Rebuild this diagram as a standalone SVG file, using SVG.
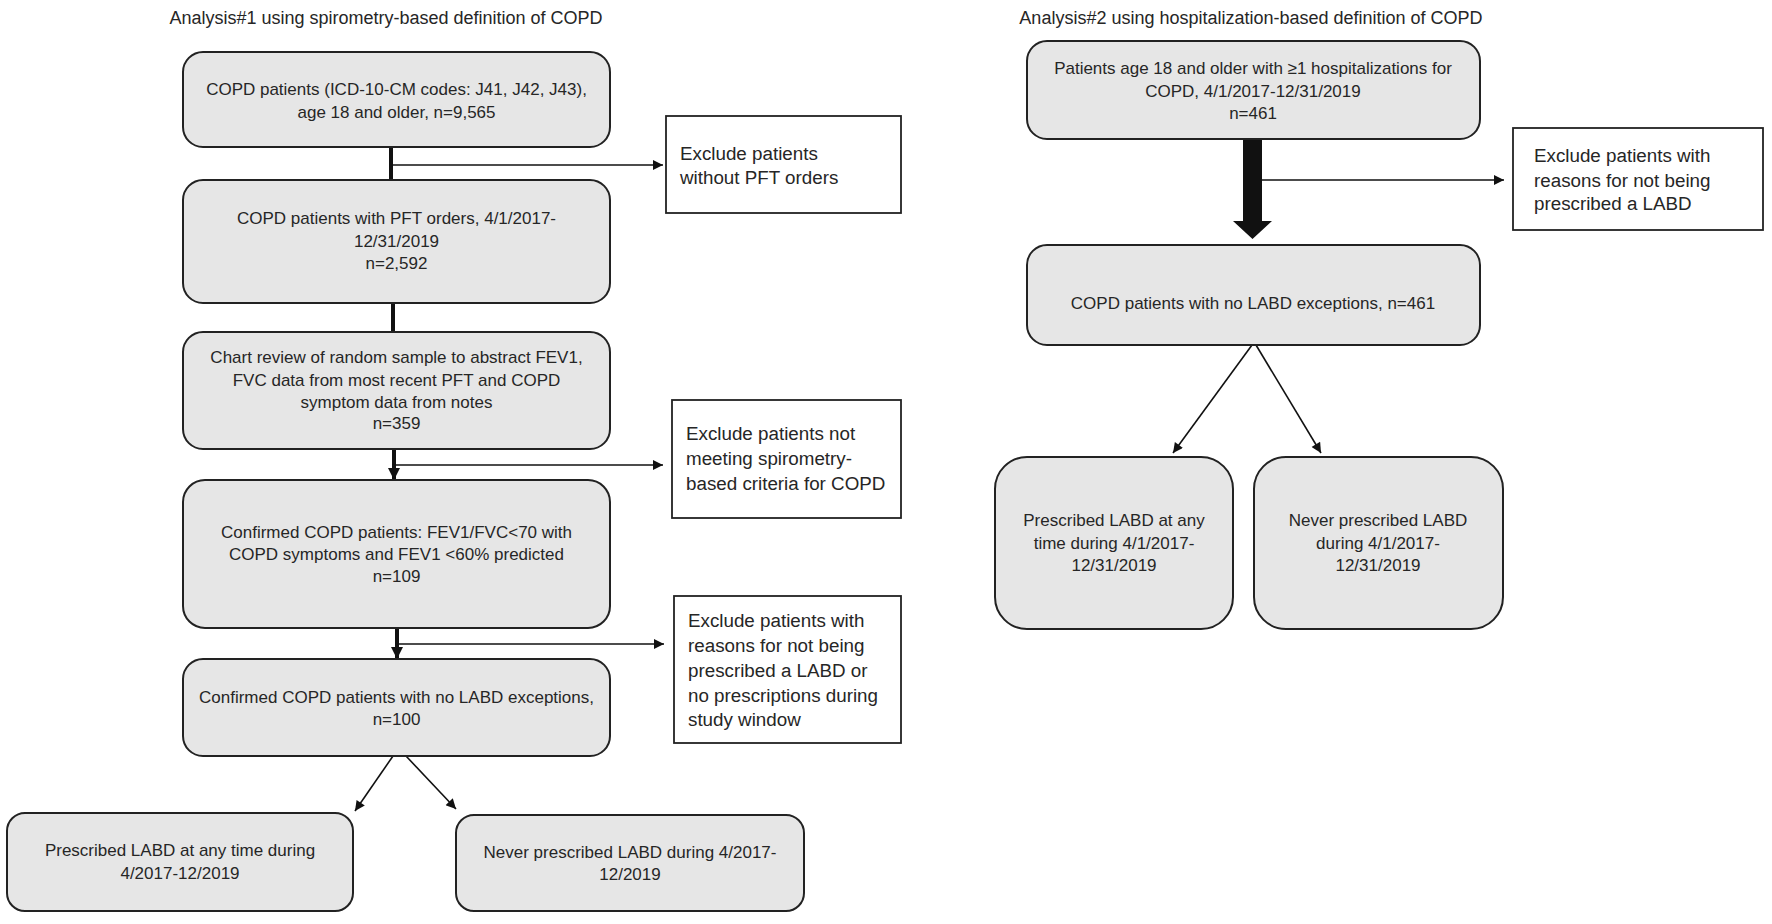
<svg xmlns="http://www.w3.org/2000/svg" width="1772" height="924" viewBox="0 0 1772 924">
<defs>
<style>
.bx{fill:#e6e6e6;stroke:#222;stroke-width:2}
.ex{fill:#fff;stroke:#222;stroke-width:1.8}
.t{font-family:"Liberation Sans",Arial,sans-serif;font-size:17px;fill:#262626;text-anchor:middle}
.te{font-family:"Liberation Sans",Arial,sans-serif;font-size:18.8px;fill:#262626}
.ti{font-family:"Liberation Sans",Arial,sans-serif;font-size:18px;fill:#262626;text-anchor:middle}
.thick{stroke:#111;stroke-width:4;fill:none}
.thin{stroke:#111;stroke-width:1.6;fill:none}
</style>
<marker id="ah" viewBox="0 0 10 10" refX="10" refY="5" markerWidth="12" markerHeight="10" markerUnits="userSpaceOnUse" orient="auto">
<path d="M0,0 L10,5 L0,10 z" fill="#111"/>
</marker>
<marker id="ahs" viewBox="0 0 10 10" refX="10" refY="5" markerWidth="4" markerHeight="3" orient="auto">
<path d="M0,0 L10,5 L0,10 z" fill="#111"/>
</marker>
</defs>
<rect width="1772" height="924" fill="#fff"/>

<text class="ti" x="386" y="24">Analysis#1 using spirometry-based definition of COPD</text>
<text class="ti" x="1251" y="24">Analysis#2 using hospitalization-based definition of COPD</text>

<g id="connectors">
<line class="thick" x1="391" y1="147" x2="391" y2="180"/>
<line class="thin" x1="391" y1="165" x2="663" y2="165" marker-end="url(#ah)"/>
<line class="thick" x1="393" y1="303" x2="393" y2="332"/>
<line class="thick" x1="394" y1="449" x2="394" y2="480" marker-end="url(#ahs)"/>
<line class="thin" x1="394" y1="465" x2="663" y2="465" marker-end="url(#ah)"/>
<line class="thick" x1="397" y1="628" x2="397" y2="659" marker-end="url(#ahs)"/>
<line class="thin" x1="397" y1="644" x2="664" y2="644" marker-end="url(#ah)"/>
<line class="thin" x1="393" y1="756" x2="355" y2="811" marker-end="url(#ah)"/>
<line class="thin" x1="406" y1="756" x2="456" y2="809" marker-end="url(#ah)"/>
<path d="M1243,139 L1262,139 L1262,221 L1272,221 L1252.5,239 L1233,221 L1243,221 z" fill="#111"/>
<line class="thin" x1="1262" y1="180" x2="1504" y2="180" marker-end="url(#ah)"/>
<line class="thin" x1="1252" y1="345" x2="1173" y2="453" marker-end="url(#ah)"/>
<line class="thin" x1="1256" y1="345" x2="1321" y2="453" marker-end="url(#ah)"/>
</g>

<g id="n1">
<rect class="bx" x="183" y="52" width="427" height="95" rx="20"/>
<text class="t" x="396.5" y="95">COPD patients (ICD-10-CM codes: J41, J42, J43),</text>
<text class="t" x="396.5" y="118">age 18 and older, n=9,565</text>
</g>
<g id="x1">
<rect class="ex" x="666" y="116" width="235" height="97"/>
<text class="te" x="680" y="160">Exclude patients</text>
<text class="te" x="680" y="184">without PFT orders</text>
</g>
<g id="n2">
<rect class="bx" x="183" y="180" width="427" height="123" rx="20"/>
<text class="t" x="396.5" y="224">COPD patients with PFT orders, 4/1/2017-</text>
<text class="t" x="396.5" y="247">12/31/2019</text>
<text class="t" x="396.5" y="269">n=2,592</text>
</g>
<g id="n3">
<rect class="bx" x="183" y="332" width="427" height="117" rx="20"/>
<text class="t" x="396.5" y="363">Chart review of random sample to abstract FEV1,</text>
<text class="t" x="396.5" y="386">FVC data from most recent PFT and COPD</text>
<text class="t" x="396.5" y="408">symptom data from notes</text>
<text class="t" x="396.5" y="429">n=359</text>
</g>
<g id="x2">
<rect class="ex" x="672" y="400" width="229" height="118"/>
<text class="te" x="686" y="440">Exclude patients not</text>
<text class="te" x="686" y="465">meeting  spirometry-</text>
<text class="te" x="686" y="490">based criteria for COPD</text>
</g>
<g id="n4">
<rect class="bx" x="183" y="480" width="427" height="148" rx="22"/>
<text class="t" x="396.5" y="538">Confirmed COPD patients: FEV1/FVC&lt;70 with</text>
<text class="t" x="396.5" y="560">COPD symptoms and FEV1 &lt;60% predicted</text>
<text class="t" x="396.5" y="582">n=109</text>
</g>
<g id="x3">
<rect class="ex" x="674" y="596" width="227" height="147"/>
<text class="te" x="688" y="627">Exclude patients with</text>
<text class="te" x="688" y="652">reasons for not being</text>
<text class="te" x="688" y="677">prescribed a LABD  or</text>
<text class="te" x="688" y="702">no prescriptions during</text>
<text class="te" x="688" y="726">study window</text>
</g>
<g id="n5">
<rect class="bx" x="183" y="659" width="427" height="97" rx="20"/>
<text class="t" x="396.5" y="703">Confirmed COPD patients with no LABD exceptions,</text>
<text class="t" x="396.5" y="725">n=100</text>
</g>
<g id="n6">
<rect class="bx" x="7" y="813" width="346" height="98" rx="18"/>
<text class="t" x="180" y="856">Prescribed LABD at any time during</text>
<text class="t" x="180" y="879">4/2017-12/2019</text>
</g>
<g id="n7">
<rect class="bx" x="456" y="815" width="348" height="96" rx="18"/>
<text class="t" x="630" y="858">Never prescribed LABD during 4/2017-</text>
<text class="t" x="630" y="880">12/2019</text>
</g>

<g id="r1">
<rect class="bx" x="1027" y="41" width="453" height="98" rx="20"/>
<text class="t" x="1253" y="74">Patients age 18 and older with ≥1 hospitalizations for</text>
<text class="t" x="1253" y="97">COPD, 4/1/2017-12/31/2019</text>
<text class="t" x="1253" y="119">n=461</text>
</g>
<g id="rx">
<rect class="ex" x="1513" y="128" width="250" height="102"/>
<text class="te" x="1534" y="162">Exclude patients with</text>
<text class="te" x="1534" y="187">reasons for not being</text>
<text class="te" x="1534" y="210">prescribed a LABD</text>
</g>
<g id="r2">
<rect class="bx" x="1027" y="245" width="453" height="100" rx="20"/>
<text class="t" x="1253" y="309">COPD patients with no LABD exceptions, n=461</text>
</g>
<g id="r3">
<rect class="bx" x="995" y="457" width="238" height="172" rx="32"/>
<text class="t" x="1114" y="526">Prescribed LABD at any</text>
<text class="t" x="1114" y="549">time during 4/1/2017-</text>
<text class="t" x="1114" y="571">12/31/2019</text>
</g>
<g id="r4">
<rect class="bx" x="1254" y="457" width="249" height="172" rx="32"/>
<text class="t" x="1378" y="526">Never prescribed LABD</text>
<text class="t" x="1378" y="549">during 4/1/2017-</text>
<text class="t" x="1378" y="571">12/31/2019</text>
</g>
</svg>
